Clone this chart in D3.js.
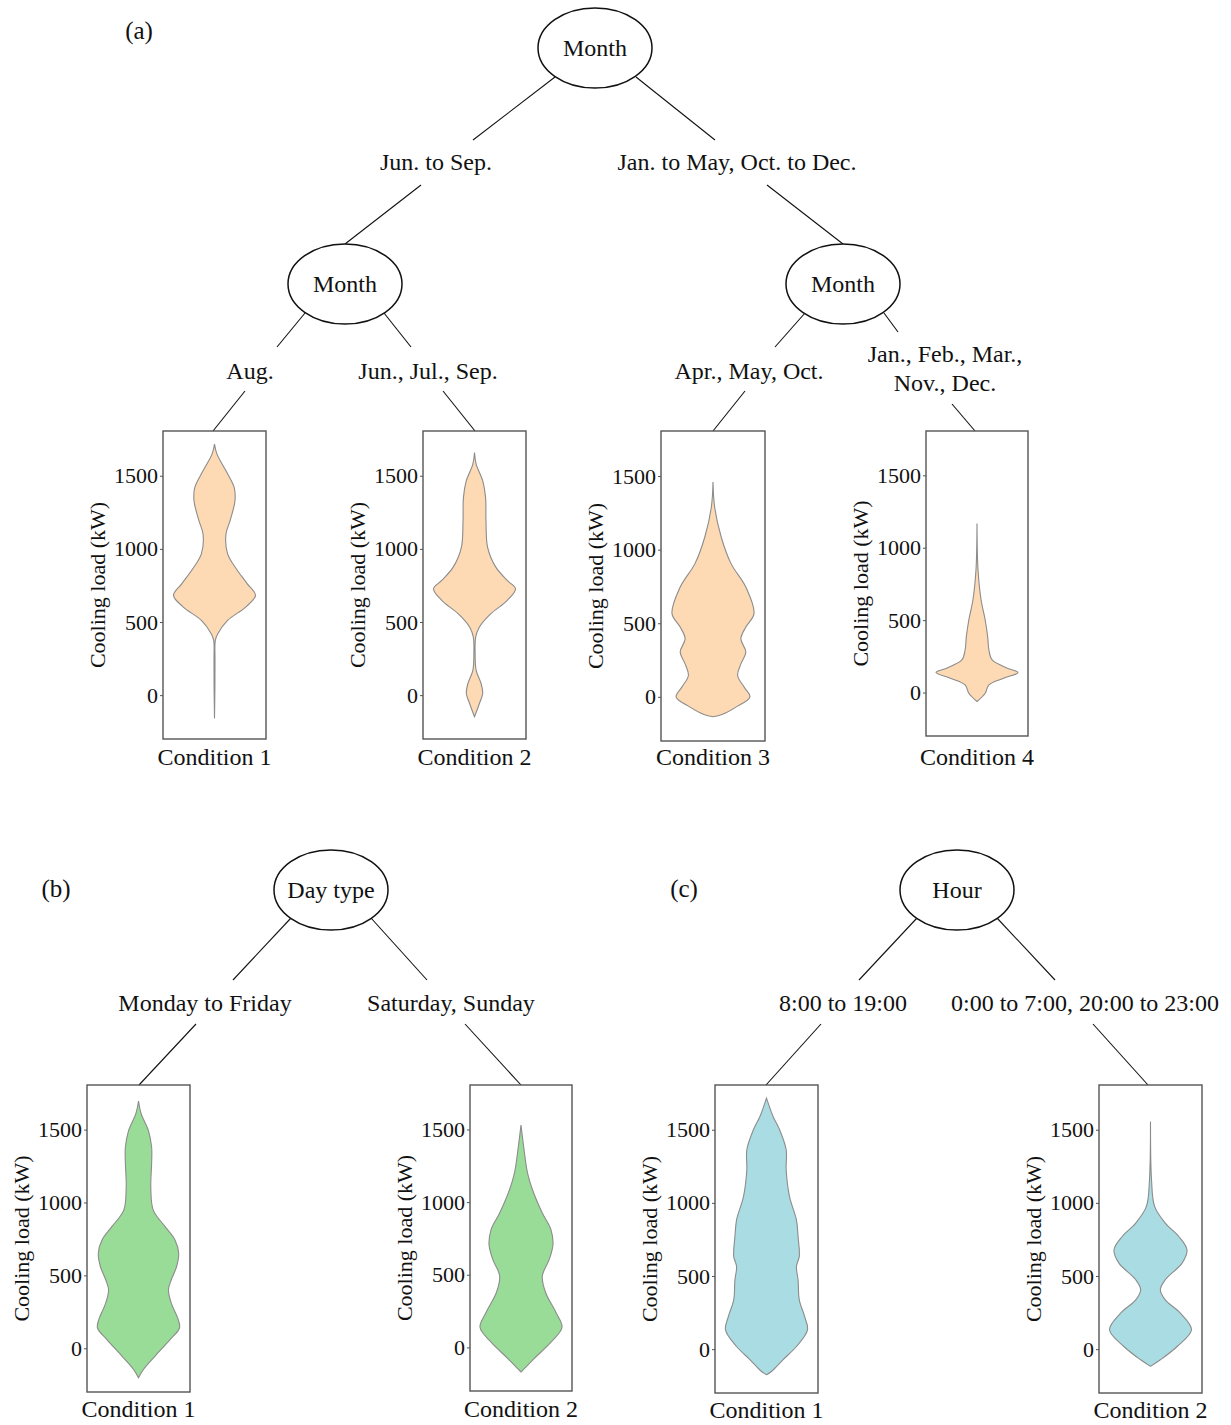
<!DOCTYPE html>
<html>
<head>
<meta charset="utf-8">
<script src="https://d3js.org/d3.v7.min.js"></script>
<style>
  html, body { margin: 0; padding: 0; background: #fff; }
  svg { display: block; }
  text { font-family: "Liberation Serif", "Times New Roman", serif; fill: #111; }
</style>
</head>
<body>
<svg id="chart" width="1231" height="1425"></svg>
<script>
// ---------------- DATA ----------------
const yTicks = [0, 500, 1000, 1500];
const yAxisTitle = "Cooling load (kW)";

// Violin outlines: load value (kW) and relative half-width (0..1)
const condA1Load  = [1716, 1648, 1534, 1420, 1330, 1193, 1102, 966, 852, 761, 682, 602, 511, 420, 375, 250, 50, -159];
const condA1Width = [0, 0.06, 0.28, 0.48, 0.5, 0.38, 0.28, 0.32, 0.56, 0.8, 1.0, 0.76, 0.32, 0.08, 0.02, 0.012, 0.01, 0];

const condA2Load  = [1659, 1580, 1466, 1352, 1193, 1011, 875, 784, 727, 648, 557, 466, 398, 284, 170, 80, 11, -57, -148];
const condA2Width = [0, 0.04, 0.2, 0.27, 0.28, 0.32, 0.52, 0.8, 1.0, 0.8, 0.4, 0.12, 0.03, 0.015, 0.04, 0.16, 0.2, 0.12, 0];

const condA3Load  = [1460, 1290, 1086, 905, 746, 565, 474, 395, 304, 224, 145, 66, 0, -70, -120, -135];
const condA3Width = [0, 0.04, 0.2, 0.44, 0.8, 1.0, 0.8, 0.68, 0.8, 0.68, 0.6, 0.76, 0.9, 0.56, 0.22, 0];

const condA4Load  = [1168, 846, 639, 501, 386, 294, 225, 168, 138, 99, 53, -5, -62];
const condA4Width = [0, 0.025, 0.1, 0.2, 0.26, 0.29, 0.37, 0.74, 1.0, 0.65, 0.29, 0.2, 0];

const condB1Load  = [1696, 1609, 1495, 1381, 1267, 1108, 948, 834, 743, 652, 561, 470, 401, 310, 196, 139, 59, -55, -146, -203];
const condB1Width = [0, 0.065, 0.24, 0.32, 0.32, 0.3, 0.36, 0.65, 0.89, 0.98, 0.93, 0.8, 0.73, 0.8, 0.97, 1.0, 0.77, 0.4, 0.12, 0];

const condB2Load  = [1530, 1381, 1199, 1085, 925, 811, 709, 606, 492, 378, 242, 139, 36, -77, -146, -169];
const condB2Width = [0, 0.065, 0.16, 0.28, 0.52, 0.73, 0.78, 0.69, 0.52, 0.6, 0.85, 1.0, 0.73, 0.32, 0.08, 0];

const condC1Load  = [1716, 1591, 1500, 1363, 1226, 1044, 884, 770, 634, 565, 474, 337, 223, 132, 18, -73, -153, -175];
const condC1Width = [0, 0.16, 0.32, 0.48, 0.48, 0.56, 0.73, 0.77, 0.8, 0.73, 0.77, 0.8, 0.93, 1.0, 0.73, 0.4, 0.12, 0];

const condC2Load  = [1557, 1158, 976, 862, 770, 679, 588, 474, 406, 337, 246, 132, 18, -73, -118];
const condC2Width = [0, 0.025, 0.1, 0.36, 0.69, 0.89, 0.77, 0.36, 0.24, 0.36, 0.73, 1.0, 0.65, 0.24, 0];

const conditionNames = ["Condition 1", "Condition 2", "Condition 3", "Condition 4"];

// Tree texts
const treeNodeLabels = { a0: "Month", a1: "Month", a2: "Month", b0: "Day type", c0: "Hour" };
const branchLabels = {
  aL: ["Jun. to Sep."], aR: ["Jan. to May, Oct. to Dec."],
  aLL: ["Aug."], aLR: ["Jun., Jul., Sep."],
  aRL: ["Apr., May, Oct."], aRR: ["Jan., Feb., Mar.,", "Nov., Dec."],
  bL: ["Monday to Friday"], bR: ["Saturday, Sunday"],
  cL: ["8:00 to 19:00"], cR: ["0:00 to 7:00, 20:00 to 23:00"]
};
const panelLetters = ["(a)", "(b)", "(c)"];

// ---------------- LAYOUT ----------------
const peach = "#fdd9b4", green = "#98dc98", blue = "#aadce3";

const violins = [
  { load: condA1Load, width: condA1Width, name: conditionNames[0], color: peach, labelY: 757,  box: { x: 163, y: 431, w: 103, h: 308 } },
  { load: condA2Load, width: condA2Width, name: conditionNames[1], color: peach, labelY: 757,  box: { x: 423, y: 431, w: 103, h: 308 } },
  { load: condA3Load, width: condA3Width, name: conditionNames[2], color: peach, labelY: 757,  box: { x: 661, y: 431, w: 104, h: 310 } },
  { load: condA4Load, width: condA4Width, name: conditionNames[3], color: peach, labelY: 757,  box: { x: 926, y: 431, w: 102, h: 305 } },
  { load: condB1Load, width: condB1Width, name: conditionNames[0], color: green, labelY: 1409, box: { x: 87,  y: 1085, w: 103, h: 307 } },
  { load: condB2Load, width: condB2Width, name: conditionNames[1], color: green, labelY: 1409, box: { x: 470, y: 1085, w: 102, h: 306 } },
  { load: condC1Load, width: condC1Width, name: conditionNames[0], color: blue,  labelY: 1410, box: { x: 715, y: 1085, w: 103, h: 308 } },
  { load: condC2Load, width: condC2Width, name: conditionNames[1], color: blue,  labelY: 1410, box: { x: 1099, y: 1085, w: 103, h: 308 } }
];

const ellipses = [
  { key: "a0", cx: 595, cy: 48 },
  { key: "a1", cx: 345, cy: 284 },
  { key: "a2", cx: 843, cy: 284 },
  { key: "b0", cx: 331, cy: 890 },
  { key: "c0", cx: 957, cy: 890 }
];
const labelPos = {
  aL: [436, 162], aR: [737, 162],
  aLL: [250, 371], aLR: [428, 371],
  aRL: [749, 371], aRR: [945, 354],
  bL: [205, 1003], bR: [451, 1003],
  cL: [843, 1003], cR: [1085, 1003]
};
const edges = [
  [555, 77, 473, 140], [636, 77, 715, 140],
  [421, 185, 345, 244], [767, 185, 843, 244],
  [305, 313, 277, 347], [384, 313, 411, 347],
  [805, 313, 775, 347], [884, 313, 898, 332],
  [245, 391, 213, 431], [443, 391, 475, 431],
  [745, 391, 713, 431], [952, 404, 975, 431],
  [291, 918, 233, 980], [371, 918, 427, 980],
  [196, 1024, 139, 1085], [465, 1024, 521, 1085],
  [917, 918, 859, 980], [997, 918, 1055, 980],
  [821, 1024, 766, 1085], [1093, 1024, 1148, 1085]
];
const letterPos = [[139, 30], [56, 888], [684, 888]];

// ---------------- DRAW ----------------
const svg = d3.select("#chart");

svg.selectAll("text.letter").data(panelLetters).join("text")
  .attr("class", "letter")
  .attr("x", (d, i) => letterPos[i][0]).attr("y", (d, i) => letterPos[i][1])
  .attr("dy", "0.35em").attr("text-anchor", "middle")
  .style("font-size", "25px").text(d => d);

svg.selectAll("line.edge").data(edges).join("line")
  .attr("class", "edge")
  .attr("x1", d => d[0]).attr("y1", d => d[1]).attr("x2", d => d[2]).attr("y2", d => d[3])
  .attr("stroke", "#111").attr("stroke-width", 1.1);

const eg = svg.selectAll("g.node").data(ellipses).join("g").attr("class", "node")
  .attr("transform", d => `translate(${d.cx},${d.cy})`);
eg.append("ellipse").attr("rx", 57).attr("ry", 40)
  .attr("fill", "#fff").attr("stroke", "#111").attr("stroke-width", 1.5);
eg.append("text").attr("text-anchor", "middle").attr("dy", "0.35em")
  .style("font-size", "24px").text(d => treeNodeLabels[d.key]);

Object.keys(branchLabels).forEach(k => {
  const [x, y] = labelPos[k];
  const t = svg.append("text").attr("text-anchor", "middle").style("font-size", "24px");
  branchLabels[k].forEach((line, i) => {
    t.append("tspan").attr("x", x).attr("y", y + i * 29).attr("dy", "0.35em").text(line);
  });
});

const violinMaxHalf = 41;
violins.forEach(v => {
  const b = v.box;
  const g = svg.append("g");
  const y = d3.scaleLinear().domain([-300, 1806]).range([b.y + b.h, b.y]);
  const w = d3.scaleLinear().domain([0, 1]).range([0, violinMaxHalf]);
  const cx = b.x + b.w / 2;
  const pts = v.load.map((l, i) => ({ l, w: v.width[i] }));

  const area = d3.area()
    .y(d => y(d.l))
    .x0(d => cx - w(d.w))
    .x1(d => cx + w(d.w))
    .curve(d3.curveCatmullRom.alpha(0.5));

  g.append("path").datum(pts).attr("d", area)
    .attr("fill", v.color).attr("stroke", "#8c8c8c").attr("stroke-width", 1.1);

  g.append("rect").attr("x", b.x).attr("y", b.y).attr("width", b.w).attr("height", b.h)
    .attr("fill", "none").attr("stroke", "#555").attr("stroke-width", 1.4);

  const axis = d3.axisLeft(y).tickValues(yTicks).tickSize(3).tickPadding(2).tickFormat(d3.format("d"));
  const ag = g.append("g").attr("transform", `translate(${b.x},0)`).call(axis);
  ag.select(".domain").remove();
  ag.selectAll(".tick line").attr("stroke", "#555");
  ag.selectAll(".tick text").style("font-size", "22px")
    .style("font-family", '"Liberation Serif", "Times New Roman", serif').attr("fill", "#111");

  g.append("text")
    .attr("transform", `translate(${b.x - 66},${b.y + b.h / 2}) rotate(-90)`)
    .attr("text-anchor", "middle").attr("dy", "0.35em")
    .style("font-size", "22px").text(yAxisTitle);

  g.append("text").attr("x", cx).attr("y", v.labelY).attr("dy", "0.35em")
    .attr("text-anchor", "middle").style("font-size", "24px").text(v.name);
});
</script>
</body>
</html>
